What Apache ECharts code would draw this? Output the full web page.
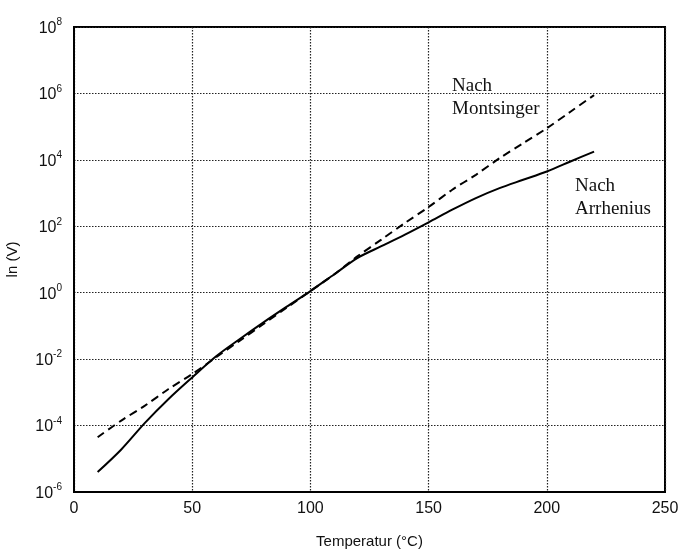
<!DOCTYPE html>
<html>
<head>
<meta charset="utf-8">
<script src="https://cdn.jsdelivr.net/npm/echarts@6/dist/echarts.min.js"></script>
<style>html,body{margin:0;padding:0;background:#fff}#c{width:682px;height:549px}</style>
</head>
<body>
<div id="c"></div>
<script>
// Temperature (°C) sample points
var temps = [10, 20, 30, 40, 50, 60, 70, 80, 90, 100, 110, 120, 130, 140, 150, 160, 170, 180, 190, 200, 210, 220];
// log10(V) (decade exponent)
var arrheniusExp = [-5.4, -4.72, -3.92, -3.2, -2.55, -1.92, -1.4, -0.9, -0.42, 0.05, 0.55, 1.05, 1.4, 1.75, 2.12, 2.5, 2.85, 3.15, 3.4, 3.65, 3.95, 4.25];
var montsingerExp = [-4.35, -3.85, -3.4, -2.9, -2.45, -1.95, -1.45, -0.95, -0.45, 0.05, 0.55, 1.1, 1.6, 2.1, 2.58, 3.1, 3.55, 4.05, 4.5, 4.95, 5.45, 5.95];
var xTicks = [0, 50, 100, 150, 200, 250];
var yTickExps = [-6, -4, -2, 0, 2, 4, 6, 8];

function pairs(exps) {
  return temps.map(function (t, i) { return [t, exps[i]]; });
}

var chart = echarts.init(document.getElementById('c'), null, {renderer: 'canvas'});
chart.setOption({
  animation: false,
  backgroundColor: '#fff',
  grid: {left: 74, right: 17, top: 27, bottom: 57, outerBoundsMode: 'none', containLabel: false, show: true, borderColor: '#000', borderWidth: 2, backgroundColor: 'transparent'},
  xAxis: {
    type: 'value', min: xTicks[0], max: xTicks[xTicks.length - 1], interval: xTicks[1] - xTicks[0],
    name: 'Temperatur (°C)', nameLocation: 'middle', nameGap: 42,
    nameTextStyle: {fontFamily: 'Liberation Sans', fontSize: 15, color: '#111'},
    axisLine: {show: true, onZero: false, lineStyle: {color: '#000', width: 2}},
    axisTick: {show: false},
    axisLabel: {fontFamily: 'Liberation Sans', fontSize: 16, color: '#111', margin: 9},
    splitLine: {show: true, lineStyle: {color: '#222', type: [1.5, 1.5], width: 1.2}}
  },
  yAxis: {
    type: 'value', min: yTickExps[0], max: yTickExps[yTickExps.length - 1], interval: yTickExps[1] - yTickExps[0],
    name: 'ln (V)', nameLocation: 'middle', nameGap: 54, nameRotate: 90,
    nameTextStyle: {fontFamily: 'Liberation Sans', fontSize: 15, color: '#111'},
    axisLine: {show: true, onZero: false, lineStyle: {color: '#000', width: 2}},
    axisTick: {show: false},
    axisLabel: {
      margin: 12,
      formatter: function (v) {
        return '{b|10}{e|' + v + '}';
      },
      rich: {
        b: {fontFamily: 'Liberation Sans', fontSize: 16, color: '#111', verticalAlign: 'bottom'},
        e: {fontFamily: 'Liberation Sans', fontSize: 10, color: '#111', verticalAlign: 'bottom', padding: [0, 0, 9, 0]}
      }
    },
    splitLine: {show: true, lineStyle: {color: '#222', type: [1.5, 1.5], width: 1.2}}
  },
  series: [
    {
      name: 'Nach Arrhenius', type: 'line', data: pairs(arrheniusExp), smooth: 0.3, symbol: 'none',
      lineStyle: {color: '#000', width: 2}
    },
    {
      name: 'Nach Montsinger', type: 'line', data: pairs(montsingerExp), smooth: 0.3, symbol: 'none',
      lineStyle: {color: '#000', width: 2, type: [8, 5]}
    }
  ],
  graphic: [
    {type: 'text', left: 452, top: 75, style: {text: 'Nach\nMontsinger', font: '19px "Liberation Serif"', fill: '#111', lineHeight: 23}},
    {type: 'text', left: 575, top: 175, style: {text: 'Nach\nArrhenius', font: '19px "Liberation Serif"', fill: '#111', lineHeight: 23}}
  ]
});
</script>
</body>
</html>
